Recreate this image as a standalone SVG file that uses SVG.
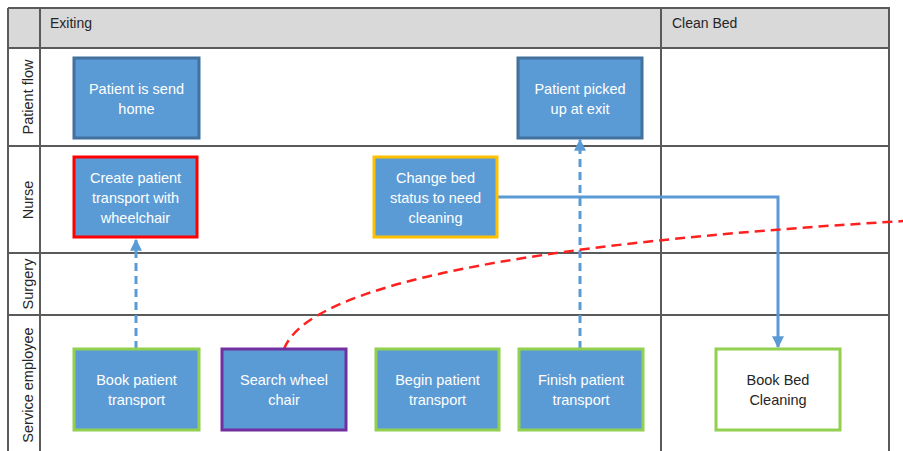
<svg xmlns="http://www.w3.org/2000/svg" width="903" height="451" viewBox="0 0 903 451">
<style>
.grid{stroke:#5a5a5a;stroke-width:2;fill:none}
.hdr{font-family:"Liberation Sans",Arial,sans-serif;font-size:14px;fill:#262626}
.lane{font-family:"Liberation Sans",Arial,sans-serif;font-size:14.5px;fill:#262626;text-anchor:middle}
.box{fill:#5b9bd5;stroke-width:3}
.t{font-family:"Liberation Sans",Arial,sans-serif;font-size:14.5px;fill:#ffffff;text-anchor:middle}
.tb{font-family:"Liberation Sans",Arial,sans-serif;font-size:14.5px;fill:#262626;text-anchor:middle}
.blue{stroke:#5b9bd5;stroke-width:3;fill:none}
.dash{stroke-dasharray:8 5}
.red{stroke:#ff2020;stroke-width:2.5;fill:none;stroke-dasharray:10 6}
</style>
<defs>
<marker id="arr" viewBox="0 0 10 10" refX="9" refY="5" markerWidth="4" markerHeight="4" orient="auto" markerUnits="strokeWidth">
<path d="M0,0 L10,5 L0,10 z" fill="#5b9bd5"/>
</marker>
</defs>
<rect width="903" height="451" fill="#ffffff"/>
<g id="pool">
<rect x="8" y="8" width="881" height="40" fill="#d9d9d9"/>
<path class="grid" d="M8,8 H889 V451 M8,8 V451 M40,8 V451 M661,8 V451 M8,48 H889 M8,146 H889 M8,253 H889 M8,315 H889"/>
<text class="hdr" x="50" y="28">Exiting</text>
<text class="hdr" x="672" y="28">Clean Bed</text>
<text class="lane" transform="translate(33,97) rotate(-90)">Patient flow</text>
<text class="lane" transform="translate(33,200) rotate(-90)">Nurse</text>
<text class="lane" transform="translate(33,284) rotate(-90)">Surgery</text>
<text class="lane" transform="translate(33,385) rotate(-90)">Service employee</text>
</g>
<g id="connectors">
<path class="blue dash" d="M136,349 V240" marker-end="url(#arr)"/>
<path class="blue dash" d="M580,349 V140" marker-end="url(#arr)"/>
<path class="blue" d="M497,197 H778 V347" marker-end="url(#arr)"/>
<path class="red" d="M284,349 Q320,255 905,221"/>
</g>
<g id="n1"><rect class="box" x="74" y="58" width="125" height="80" stroke="#41719c"/>
<text class="t" x="136.5" y="94">Patient is send</text><text class="t" x="136.5" y="114">home</text></g>
<g id="n2"><rect class="box" x="74" y="157" width="123" height="80" stroke="#ff0000"/>
<text class="t" x="135.5" y="183">Create patient</text><text class="t" x="135.5" y="203">transport with</text><text class="t" x="135.5" y="223">wheelchair</text></g>
<g id="n3"><rect class="box" x="374" y="157" width="123" height="80" stroke="#ffc000"/>
<text class="t" x="435.5" y="183">Change bed</text><text class="t" x="435.5" y="203">status to need</text><text class="t" x="435.5" y="223">cleaning</text></g>
<g id="n4"><rect class="box" x="518" y="58" width="124" height="80" stroke="#41719c"/>
<text class="t" x="580" y="94">Patient picked</text><text class="t" x="580" y="114">up at exit</text></g>
<g id="n5"><rect class="box" x="74" y="349" width="125" height="81" stroke="#92d050"/>
<text class="t" x="136.5" y="385">Book patient</text><text class="t" x="136.5" y="405">transport</text></g>
<g id="n6"><rect class="box" x="222" y="349" width="124" height="81" stroke="#7030a0"/>
<text class="t" x="284" y="385">Search wheel</text><text class="t" x="284" y="405">chair</text></g>
<g id="n7"><rect class="box" x="376" y="349" width="123" height="81" stroke="#92d050"/>
<text class="t" x="437.5" y="385">Begin patient</text><text class="t" x="437.5" y="405">transport</text></g>
<g id="n8"><rect class="box" x="519" y="349" width="124" height="81" stroke="#92d050"/>
<text class="t" x="581" y="385">Finish patient</text><text class="t" x="581" y="405">transport</text></g>
<g id="n9"><rect x="716" y="349" width="124" height="81" fill="#ffffff" stroke="#92d050" stroke-width="3"/>
<text class="tb" x="778" y="385">Book Bed</text><text class="tb" x="778" y="405">Cleaning</text></g>
</svg>
